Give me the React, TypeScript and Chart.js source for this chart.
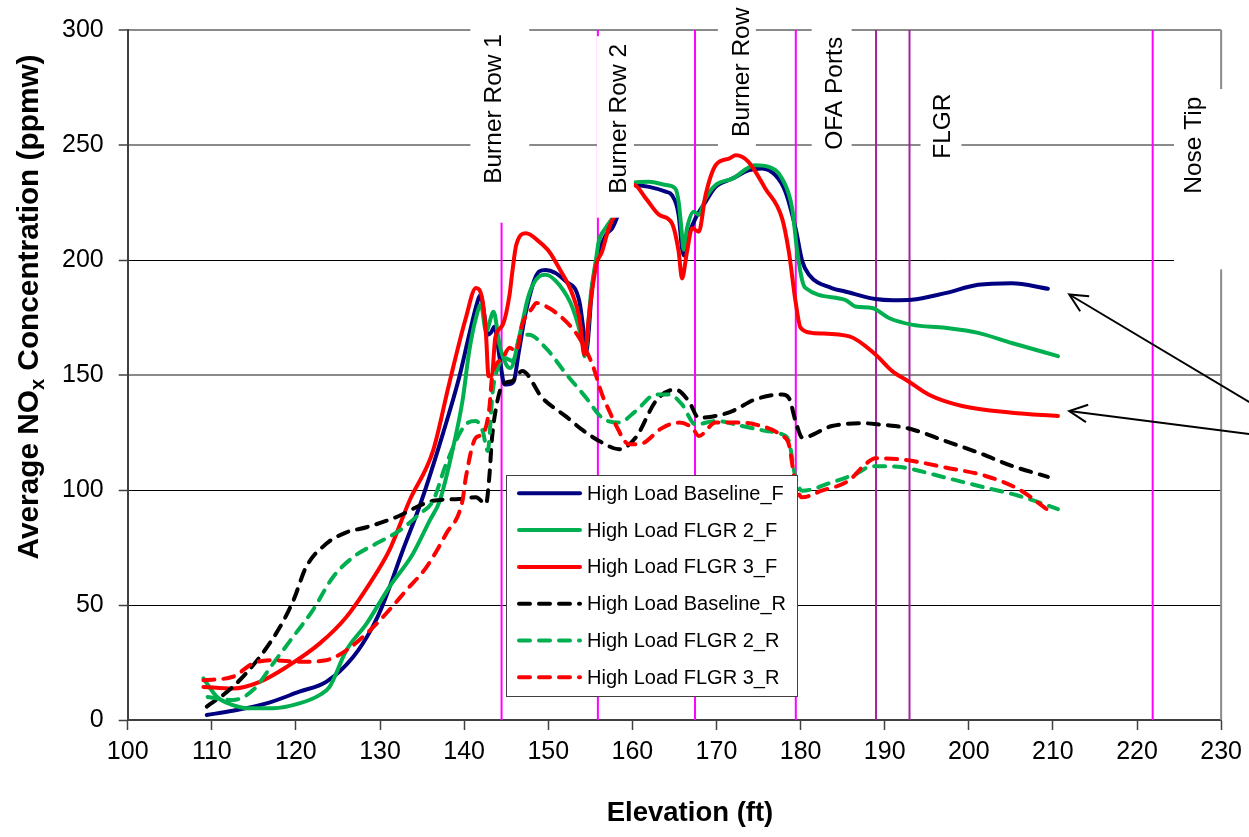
import React, { useEffect, useRef } from 'react';
import { Chart, registerables } from 'chart.js';

Chart.register(...registerables);

const FONT = "'Liberation Sans', Arial, sans-serif";

// ---------- data (elevation ft, NOx ppmw) ----------
const seriesNames = [
  'High Load Baseline_F',
  'High Load FLGR 2_F',
  'High Load FLGR 3_F',
  'High Load Baseline_R',
  'High Load FLGR 2_R',
  'High Load FLGR 3_R',
];

const baselineF: [number, number][] = [
  [109.4, 2.2], [112.5, 4], [116.5, 7.2], [120.4, 12.3], [123.6, 16.6], [126.8, 27.4], [129.1, 40.4],
  [130.3, 49.8], [132.7, 73.7], [134.9, 95], [137.45, 124.2], [139.4, 148.8], [140.6, 167.5], [141.6, 182],
  [141.95, 184.9], [142.4, 176], [142.8, 167.5], [143.2, 168.5], [143.6, 171], [144.2, 158], [144.8, 145.9],
  [145.3, 146], [145.9, 147.3], [146.5, 160], [147.35, 177.7], [148.9, 195], [149.7, 195.7], [152.1, 190.7],
  [153.7, 182], [154.3, 166.1], [154.5, 160.3], [155.25, 189.2], [156.05, 203.7], [156.85, 210.9],
  [157.6, 213.8], [158.8, 224], [160.1, 232.6], [162, 231.8], [163.96, 229.7], [164.7, 228.2], [165.5, 219.6],
  [165.9, 205.1], [166.1, 202], [166.7, 210.9], [167.5, 218.1], [168.7, 225.3], [169.9, 231.8], [171.9, 235.4],
  [173.8, 239], [175.4, 239.8], [177, 236.9], [178.2, 229.7], [179.4, 213.8], [180.2, 199.4], [181, 193.6],
  [183.7, 187.8], [185.3, 186.3], [188.9, 183], [191, 182.5], [193.2, 182.7], [197.2, 185.6], [201.1, 189.2],
  [205.1, 189.9], [209.4, 187.5],
];

const flgr2F: [number, number][] = [
  [109.0, 18.1], [110.6, 10.1], [112.5, 6.5], [114.5, 5.1], [117.3, 5.1], [120.4, 7.2], [122.8, 10.8],
  [124, 14.4], [126, 30.3], [128.4, 41.9], [131.1, 57.8], [133.9, 72.2], [135.9, 86.7], [137.1, 95.3],
  [138.6, 117], [139.8, 138.7], [140.6, 160.3], [141.4, 174.8], [142.0, 180.5], [142.6, 169], [143.5, 177.5],
  [144.2, 163.2], [145, 154.5], [145.5, 153], [146.6, 167.5], [147.7, 184.9], [148.9, 192.8], [149.7, 193.6],
  [151.3, 189.2], [152.9, 179.1], [154.1, 163.2], [154.3, 158.2], [155.1, 186.3], [155.7, 200.8], [156, 208],
  [156.8, 213.8], [157.6, 218.1], [158.8, 226], [160.1, 233.6], [162, 234], [164, 232.6], [165.1, 231.1],
  [165.5, 225.3], [165.9, 210.9], [166.1, 204.5], [166.5, 213.8], [167.3, 221], [167.9, 219.6], [168.7, 226.8],
  [169.9, 232.6], [171.9, 235.4], [174.6, 241.2], [176.2, 240.5], [177.8, 235.4], [179, 222.4], [179.6, 203.7],
  [180.2, 191], [180.6, 187.8], [185.3, 182.7], [186.5, 179.8], [188.5, 179.1], [190.5, 174.8], [193.2, 171.9],
  [197.2, 170.5], [201.1, 168.3], [205.1, 163.9], [210.6, 158.2],
];

const flgr3F: [number, number][] = [
  [109.0, 14.4], [112.5, 13.7], [115.7, 16.6], [118.9, 23.1], [122.8, 33.2], [126, 44.8], [128.75, 59.2],
  [131.1, 73.7], [133.5, 95.3], [136.3, 117], [138.2, 145.9], [140.2, 174.8], [141.4, 187.8], [142.2, 182],
  [142.6, 167.5], [142.9, 149.5], [143.3, 150], [143.7, 166.1], [144.6, 171.9], [145.4, 184.9], [145.7, 194],
  [146.2, 206.6], [147.35, 211.6], [148.9, 208], [150.1, 203.7], [151.3, 196.4], [152.9, 184.9], [153.7, 174.8],
  [154.3, 158.9], [154.9, 177.7], [155.7, 197.9], [156.4, 203.7], [157.2, 213.8], [158.8, 225], [160.2, 232.6],
  [161.6, 226.8], [163.2, 219.6], [164.7, 216], [165.5, 203.7], [165.9, 192], [166.5, 203.7], [167.1, 213.8],
  [167.9, 212.3], [168.7, 228.2], [169.9, 241.2], [171.5, 244.1], [172.3, 245.5], [173.8, 242.7], [175.8, 231.1],
  [177.8, 218.1], [178.6, 203.7], [179.4, 182], [180, 170.5], [181.4, 168.3], [185.8, 166.8], [188.9, 158.9],
  [190.9, 151.7], [192.8, 147.3], [195.2, 141.5], [199.2, 136.5], [205.1, 133.6], [210.6, 132.2],
];

const baselineR: [number, number][] = [
  [109.4, 5.8], [112.5, 14.4], [115.7, 27.4], [118.1, 40.4], [119.7, 52], [121.2, 66.4], [123.6, 76.6],
  [126, 81.6], [128.4, 83.8], [132.3, 88.8], [134.7, 93.2], [136.3, 95.3], [139.4, 96.1], [141.4, 96.8],
  [142.6, 93.9], [143, 106], [143.3, 122], [143.8, 135.8], [144.6, 145.9], [145.7, 147.3], [146.9, 151.7],
  [149.3, 140], [152.1, 132], [154.1, 126], [156.4, 120.6], [158.4, 117.7], [160.4, 122.8], [162.8, 138.7],
  [165.1, 143.7], [166.7, 138.7], [167.9, 131.4], [169.9, 132.2], [171.9, 134.3], [174.6, 139.4],
  [177.8, 141.5], [178.6, 140.1], [179.4, 130], [180.2, 122.8], [183.7, 127.8], [187.7, 129], [189.3, 128.5],
  [191.25, 127.8], [193.2, 126.4], [197.2, 121.3], [201.1, 116.3], [205.1, 110.5], [209.4, 105.7],
];

const flgr2R: [number, number][] = [
  [109.5, 10], [112.5, 8.7], [114.9, 13], [117.3, 24.6], [119.65, 36.1], [122, 47.7], [124.4, 62.1],
  [126.8, 70.8], [129.5, 76.6], [132.3, 82.3], [134.7, 89.6], [136.3, 95.3], [137.85, 111.2], [140.2, 128.5],
  [141.4, 130], [142.2, 125.7], [142.8, 117], [143.4, 143], [144, 153.1], [144.8, 157.4], [145.8, 156],
  [146.6, 166.1], [147.7, 167.5], [149.7, 161.8], [152.1, 150.6], [154.5, 140.1], [156.4, 131.4],
  [158.4, 129.3], [160.4, 134.3], [162.8, 141.5], [164.4, 141.5], [165.9, 137.2], [167.5, 128.5],
  [169.9, 130], [173.05, 127.8], [175.8, 125.7], [177.8, 124.2], [178.6, 121.3], [179.4, 105.4], [180.2, 99.7],
  [183.7, 103.3], [186.5, 106.9], [188.5, 110.3], [191.6, 110.1], [193.2, 109.1], [197.2, 105.4],
  [201.9, 101.1], [205.9, 97.5], [210.6, 91.7],
];

const flgr3R: [number, number][] = [
  [109, 17.3], [112.5, 18.8], [114.9, 24.6], [117.3, 26], [120.4, 25.3], [123.6, 26], [126, 30.3],
  [128.4, 37.6], [130.7, 46.2], [133.1, 56.3], [135.5, 66.4], [137.85, 80.9], [139.8, 95.3], [140.2, 105.4],
  [141.4, 122.8], [142.2, 124.2], [143, 135.8], [143.3, 148.8], [143.8, 154.5], [144.6, 157.4], [145.4, 161.8],
  [146.2, 160.3], [146.9, 171.9], [148.1, 179.1], [148.6, 181.3], [150.1, 179.1], [152.1, 173.3],
  [153.7, 166.1], [155.25, 154.5], [156.4, 141.5], [157.3, 134], [158, 128.5], [159.6, 119.9], [160.8, 119.9],
  [163.6, 127.1], [165.5, 129.3], [167.1, 127.1], [167.9, 123.5], [169.9, 129.3], [172.3, 129.3],
  [174.6, 128.5], [177.8, 123.5], [178.6, 119.9], [179.4, 102.6], [180.2, 96.8], [182.5, 99.7], [185.7, 104],
  [187.7, 111.2], [188.9, 113.8], [191.6, 113.4], [193.2, 112.7], [197.2, 109.8], [201.9, 106.2],
  [205.9, 100.4], [209.4, 91.3],
];

const seriesData = [baselineF, flgr2F, flgr3F, baselineR, flgr2R, flgr3R];

// reference elevations (ft)
const markerElevations = [144.45, 155.9, 167.45, 179.43, 188.97, 192.95, 221.86];
const markerKinds = ['burner', 'burner', 'burner', 'ofa', 'flgr', 'flgr', 'nose'];

const labelTexts = ['Burner Row 1', 'Burner Row 2', 'Burner Row 3', 'OFA Ports', 'FLGR', 'Nose Tip'];

// ---------- styling ----------
const seriesColors = ['#000080', '#00B050', '#FF0000', '#000000', '#00B050', '#FF0000'];
const seriesDashed = [false, false, false, true, true, true];
const markerColors: Record<string, string> = { burner: '#FF00FF', ofa: '#FF00FF', flgr: '#A2229C', nose: '#FF00FF' };

// label boxes in data units: box [x0,x1] ft, [yBottom,yTop] ppm, text baseline x (ft) and text start y (ppm)
const labelLayout = [
  { x0: 140.74, x1: 147.74, yb: 216.2, yt: 320, tx: 144.38, ty: 233.1 },
  { x0: 155.79, x1: 160.18, yb: 218.4, yt: 297.3, tx: 159.21, ty: 228.8 },
  { x0: 170.17, x1: 174.68, yb: 247.9, yt: 320, tx: 173.85, ty: 253.5 },
  { x0: 181.32, x1: 186.07, yb: 242.7, yt: 320, tx: 184.92, ty: 247.9 },
  { x0: 194.26, x1: 199.12, yb: 240.5, yt: 296.8, tx: 197.78, ty: 244.0 },
  { x0: 224.4, x1: 236, yb: 195.9, yt: 274.3, tx: 227.6, ty: 228.8 },
];

// arrows: tip and tail in data units
const arrows = [
  { tip: [211.94, 185.0], tail: [234.4, 135.9] },
  { tip: [211.94, 134.3], tail: [234.4, 123.8] },
];

const overlayPlugin = {
  id: 'overlay',
  beforeDatasetsDraw(chart: any) {
    const { ctx, chartArea } = chart;
    ctx.save();
    ctx.strokeStyle = '#8a8a8a';
    ctx.lineWidth = 2;
    ctx.beginPath();
    ctx.moveTo(chartArea.right, chartArea.top);
    ctx.lineTo(chartArea.right, chartArea.bottom);
    ctx.stroke();
    ctx.restore();
  },
  afterDatasetsDraw(chart: any) {
    const { ctx } = chart;
    const xs = chart.scales.x;
    const ys = chart.scales.y;
    ctx.save();
    labelLayout.forEach((b, i) => {
      const x0 = xs.getPixelForValue(b.x0);
      const x1 = xs.getPixelForValue(b.x1);
      const y0 = ys.getPixelForValue(b.yt);
      const y1 = ys.getPixelForValue(b.yb);
      ctx.fillStyle = '#ffffff';
      ctx.fillRect(x0, y0, x1 - x0, y1 - y0);
      ctx.save();
      ctx.translate(xs.getPixelForValue(b.tx), ys.getPixelForValue(b.ty));
      ctx.rotate(-Math.PI / 2);
      ctx.fillStyle = '#000';
      ctx.font = `24.5px ${FONT}`;
      ctx.textAlign = 'left';
      ctx.textBaseline = 'alphabetic';
      ctx.fillText(labelTexts[i], 0, 0);
      ctx.restore();
    });
    ctx.restore();
  },
  afterDraw(chart: any) {
    const { ctx } = chart;
    const xs = chart.scales.x;
    const ys = chart.scales.y;
    ctx.save();
    // arrows
    ctx.strokeStyle = '#000';
    ctx.lineWidth = 2;
    arrows.forEach((a) => {
      const tx = xs.getPixelForValue(a.tip[0]);
      const ty = ys.getPixelForValue(a.tip[1]);
      const bx = xs.getPixelForValue(a.tail[0]);
      const by = ys.getPixelForValue(a.tail[1]);
      ctx.beginPath();
      ctx.moveTo(bx, by);
      ctx.lineTo(tx, ty);
      ctx.stroke();
      const ang = Math.atan2(by - ty, bx - tx);
      const L = 20;
      const s = (26 * Math.PI) / 180;
      ctx.beginPath();
      ctx.moveTo(tx + L * Math.cos(ang - s), ty + L * Math.sin(ang - s));
      ctx.lineTo(tx, ty);
      ctx.lineTo(tx + L * Math.cos(ang + s), ty + L * Math.sin(ang + s));
      ctx.stroke();
    });

    // legend
    const lx = 506.5, ly = 475.5, lw = 291, lh = 221;
    ctx.fillStyle = '#fff';
    ctx.fillRect(lx, ly, lw, lh);
    ctx.strokeStyle = '#404040';
    ctx.lineWidth = 1;
    ctx.strokeRect(lx, ly, lw, lh);
    ctx.font = `20px ${FONT}`;
    ctx.textBaseline = 'middle';
    ctx.textAlign = 'left';
    seriesNames.forEach((name, i) => {
      const y = 493.3 + i * 36.8;
      ctx.save();
      ctx.strokeStyle = seriesColors[i];
      ctx.lineWidth = 4;
      ctx.lineCap = 'round';
      ctx.setLineDash(seriesDashed[i] ? [11, 9] : []);
      ctx.beginPath();
      ctx.moveTo(519, y);
      ctx.lineTo(580, y);
      ctx.stroke();
      ctx.restore();
      ctx.fillStyle = '#000';
      ctx.fillText(name, 587, y + 1);
    });

    // axis titles
    ctx.fillStyle = '#000';
    ctx.font = `bold 27.5px ${FONT}`;
    ctx.textAlign = 'center';
    ctx.textBaseline = 'alphabetic';
    ctx.fillText('Elevation (ft)', 690, 821);

    ctx.save();
    ctx.translate(38, 307);
    ctx.rotate(-Math.PI / 2);
    const big = `bold 29.8px ${FONT}`;
    const small = `bold 20px ${FONT}`;
    const p1 = 'Average NO';
    const p2 = 'x';
    const p3 = ' Concentration (ppmw)';
    ctx.font = big;
    const w1 = ctx.measureText(p1).width;
    const w3 = ctx.measureText(p3).width;
    ctx.font = small;
    const w2 = ctx.measureText(p2).width;
    let x = -(w1 + w2 + w3) / 2;
    ctx.textAlign = 'left';
    ctx.font = big;
    ctx.fillText(p1, x, 0);
    x += w1;
    ctx.font = small;
    ctx.fillText(p2, x, 6);
    x += w2;
    ctx.font = big;
    ctx.fillText(p3, x, 0);
    ctx.restore();
    ctx.restore();
  },
};

export default function App() {
  const ref = useRef<HTMLCanvasElement>(null);
  useEffect(() => {
    document.body.style.margin = '0';
    const datasets: any[] = seriesData.map((d, i) => ({
      label: seriesNames[i],
      data: d.map(([x, y]) => ({ x, y })),
      borderColor: seriesColors[i],
      backgroundColor: seriesColors[i],
      borderWidth: 4,
      borderDash: seriesDashed[i] ? [11, 9] : [],
      borderCapStyle: 'round',
      borderJoinStyle: 'round',
      pointRadius: 0,
      cubicInterpolationMode: 'monotone',
      fill: false,
      order: 6 - i,
    }));
    markerElevations.forEach((e, i) => {
      datasets.push({
        label: 'marker' + i,
        data: [{ x: e, y: 0 }, { x: e, y: 300 }],
        borderColor: markerColors[markerKinds[i]],
        borderWidth: 2,
        pointRadius: 0,
        tension: 0,
        fill: false,
        order: 20,
      });
    });
    const chart = new Chart(ref.current!, {
      type: 'line',
      data: { datasets },
      plugins: [overlayPlugin],
      options: {
        responsive: false,
        animation: false,
        devicePixelRatio: 1,
        layout: { padding: { top: 27.7, right: 26, left: 0, bottom: 0 } },
        plugins: { legend: { display: false }, tooltip: { enabled: false } },
        scales: {
          x: {
            type: 'linear',
            min: 100,
            max: 230,
            afterFit: (s: any) => { s.height = 117; },
            ticks: { stepSize: 10, font: { size: 25, family: FONT }, color: '#000', padding: 7, maxRotation: 0, autoSkip: false },
            grid: { drawOnChartArea: false, tickLength: 10, tickColor: '#404040', tickWidth: 1.5 },
            border: { color: '#404040', width: 2 },
          },
          y: {
            min: 0,
            max: 300,
            afterFit: (s: any) => { s.width = 127.7; },
            ticks: { stepSize: 50, font: { size: 25, family: FONT }, color: '#000', padding: 15 },
            grid: {
              color: (c: any) => {
                const v = c.tick && c.tick.value;
                return v === 300 || v === 250 || v === 150 ? '#8a8a8a' : '#000';
              },
              lineWidth: (c: any) => {
                const v = c.tick && c.tick.value;
                return v === 300 || v === 250 || v === 150 ? 2 : 1;
              },
              tickLength: 9,
              tickColor: '#404040',
              tickWidth: 1.5,
            },
            border: { color: '#404040', width: 2 },
          },
        },
      } as any,
    });
    return () => chart.destroy();
  }, []);
  return (
    <div style={{ width: 1249, height: 837 }}>
      <canvas ref={ref} width={1249} height={837} style={{ display: 'block' }} />
    </div>
  );
}
